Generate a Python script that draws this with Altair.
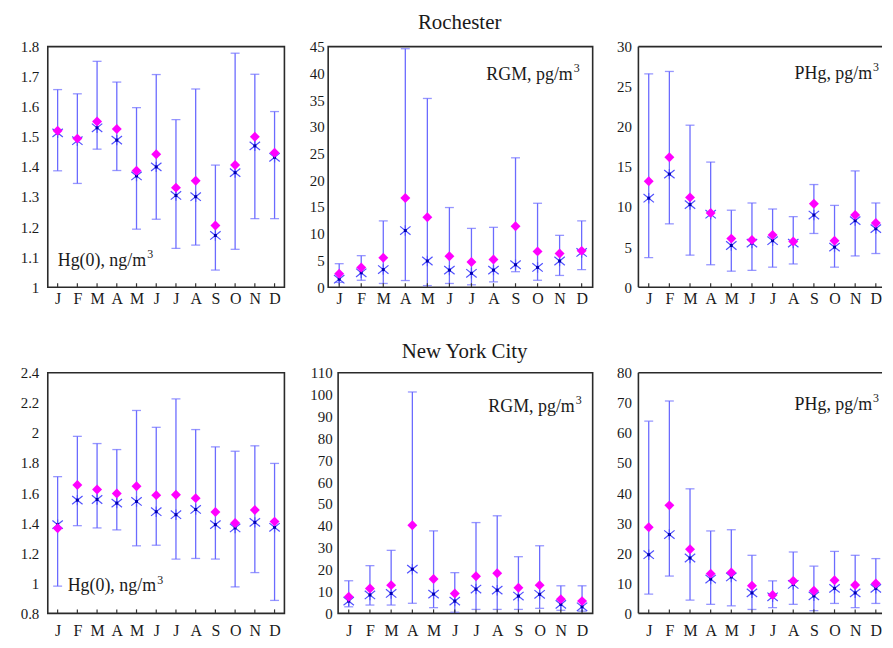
import altair as alt
import pandas as pd

months = ["J", "F", "M", "A", "M", "J", "J", "A", "S", "O", "N", "D"]
month_idx = list(range(1, 13))

# Rochester Hg(0), ng/m3
roc_hg_hi = [1.657, 1.643, 1.751, 1.682, 1.597, 1.707, 1.557, 1.659, 1.406, 1.778, 1.708, 1.584]
roc_hg_lo = [1.387, 1.345, 1.459, 1.388, 1.193, 1.226, 1.129, 1.140, 1.057, 1.126, 1.228, 1.228]
roc_hg_mean = [1.520, 1.494, 1.551, 1.526, 1.387, 1.442, 1.331, 1.354, 1.205, 1.406, 1.500, 1.447]
roc_hg_med = [1.513, 1.487, 1.530, 1.489, 1.370, 1.400, 1.305, 1.301, 1.172, 1.381, 1.470, 1.432]
roc_hg_ticks = [1, 1.1, 1.2, 1.3, 1.4, 1.5, 1.6, 1.7, 1.8]

# Rochester RGM, pg/m3
roc_rgm_hi = [4.4, 5.9, 12.4, 44.6, 35.3, 14.9, 11.0, 11.2, 24.2, 15.7, 9.7, 12.4]
roc_rgm_lo = [0.9, 1.3, 0.7, 1.25, 0.3, 0.7, 0.45, 1.0, 2.9, 1.3, 2.2, 3.3]
roc_rgm_mean = [2.5, 3.7, 5.5, 16.7, 13.1, 5.8, 4.7, 5.2, 11.4, 6.7, 6.3, 6.8]
roc_rgm_med = [1.5, 2.7, 3.3, 10.6, 4.9, 3.2, 2.6, 3.2, 4.2, 3.7, 4.9, 6.5]
roc_rgm_ticks = [0, 5, 10, 15, 20, 25, 30, 35, 40, 45]

# Rochester PHg, pg/m3
roc_phg_hi = [26.6, 26.9, 20.2, 15.6, 9.6, 10.5, 9.75, 8.8, 12.8, 10.2, 14.5, 10.5]
roc_phg_lo = [3.7, 7.9, 4.0, 2.8, 2.0, 2.1, 2.5, 2.9, 6.7, 2.5, 3.9, 4.2]
roc_phg_mean = [13.2, 16.2, 11.2, 9.25, 6.06, 5.9, 6.5, 5.7, 10.4, 5.8, 9.0, 8.0]
roc_phg_med = [11.1, 14.1, 10.3, 9.1, 5.2, 5.5, 5.8, 5.5, 9.0, 5.0, 8.3, 7.3]
roc_phg_ticks = [0, 5, 10, 15, 20, 25, 30]

# New York City Hg(0), ng/m3
nyc_hg_hi = [1.709, 1.977, 1.929, 1.889, 2.149, 2.037, 2.226, 2.022, 1.907, 1.878, 1.914, 1.797]
nyc_hg_lo = [0.981, 1.383, 1.368, 1.355, 1.249, 1.253, 1.161, 1.165, 1.161, 0.976, 1.071, 0.886]
nyc_hg_mean = [1.366, 1.654, 1.623, 1.597, 1.645, 1.586, 1.588, 1.566, 1.474, 1.401, 1.487, 1.410]
nyc_hg_med = [1.390, 1.553, 1.557, 1.533, 1.544, 1.476, 1.456, 1.491, 1.390, 1.368, 1.405, 1.372]
nyc_hg_ticks = [0.8, 1, 1.2, 1.4, 1.6, 1.8, 2, 2.2, 2.4]

# New York City RGM, pg/m3
nyc_rgm_hi = [14.9, 21.8, 28.8, 101.2, 37.7, 18.6, 41.5, 44.6, 25.9, 30.9, 12.6, 12.6]
nyc_rgm_lo = [3.0, 3.8, 3.8, 4.6, 2.6, 0.5, 1.8, 1.8, 1.8, 2.3, 1.4, 1.0]
nyc_rgm_mean = [7.6, 11.4, 12.9, 40.3, 15.7, 9.1, 17.0, 18.3, 11.7, 12.9, 6.5, 5.6]
nyc_rgm_med = [5.6, 8.4, 9.1, 20.2, 8.8, 5.6, 11.1, 10.6, 7.9, 8.7, 4.1, 3.0]
nyc_rgm_ticks = [0, 10, 20, 30, 40, 50, 60, 70, 80, 90, 100, 110]

# New York City PHg, pg/m3
nyc_phg_hi = [63.9, 70.6, 41.4, 27.4, 27.8, 19.3, 10.8, 20.4, 15.7, 20.6, 19.3, 18.2]
nyc_phg_lo = [6.4, 12.4, 4.4, 3.0, 2.5, 1.3, 1.9, 3.0, 0.9, 3.3, 1.9, 3.3]
nyc_phg_mean = [28.6, 35.9, 21.3, 13.2, 13.6, 9.2, 6.1, 10.8, 7.5, 11.0, 9.4, 9.9]
nyc_phg_med = [19.5, 26.2, 18.4, 11.4, 12.1, 6.8, 5.5, 9.6, 5.8, 8.3, 6.8, 8.3]
nyc_phg_ticks = [0, 10, 20, 30, 40, 50, 60, 70, 80]

FONT = "Liberation Serif"
ERR = "#6b6bff"
STAR = "#5050ff"
DOT = "#0000b0"
MEAN = "#ff00ff"
TXT = "#1a1a1a"
FRAME = "#2a2a2a"
H = 242
STAR_PATH = "M-1,-0.8L1,0.8M-1,0.8L1,-0.8M0,-1L0,1"

label_expr = "[" + ",".join("'%s'" % m for m in months) + "][datum.value - 1]"


def panel(hi, lo, mean, med, ticks, fmt, width, extent, pad, label, lx, ly, align,
          xmax=12.5, open_right=False, xpad=3):
    df = pd.DataFrame({"m": month_idx, "hi": hi, "lo": lo, "mean": mean, "med": med})
    xs = alt.Scale(domain=[0.5, xmax], nice=False, zero=False)
    ys = alt.Scale(domain=[ticks[0], ticks[-1]], nice=False, zero=False)
    xaxis = alt.Axis(values=month_idx, labelExpr=label_expr, domain=False, ticks=False,
                     grid=False, labelFont=FONT, labelFontSize=16, labelColor=TXT,
                     labelPadding=xpad, labelFlush=False, labelOverlap=False,
                     tickCount=12, title=None)
    yaxis = alt.Axis(values=ticks, format=fmt, domain=False, ticks=False, grid=False,
                     labelFont=FONT, labelFontSize=15, labelColor=TXT, labelPadding=pad,
                     labelOverlap=False, labelFlush=False, tickCount=len(ticks),
                     minExtent=extent, maxExtent=extent, title=None)

    def X():
        return alt.X("m:Q", scale=xs, axis=xaxis, title=None)

    def Y(f):
        return alt.Y(f + ":Q", scale=ys, axis=yaxis, title=None)

    base = alt.Chart(df)
    bars = base.mark_rule(color=ERR, strokeWidth=1.3).encode(
        x=X(), y=Y("lo"), y2="hi:Q")
    cap_hi = base.mark_tick(orient="horizontal", size=9, thickness=1.3, color=ERR).encode(
        x=X(), y=Y("hi"))
    cap_lo = base.mark_tick(orient="horizontal", size=9, thickness=1.3, color=ERR).encode(
        x=X(), y=Y("lo"))
    star = base.mark_point(shape=STAR_PATH, size=110, filled=False, strokeWidth=1.2,
                           color=STAR, opacity=1).encode(x=X(), y=Y("med"))
    dot = base.mark_square(size=9, color=DOT, opacity=1).encode(x=X(), y=Y("med"))
    dia = base.mark_point(shape="diamond", size=100, filled=True, color=MEAN,
                          opacity=1).encode(x=X(), y=Y("mean"))
    tk = base.mark_rule(color="#333", strokeWidth=1.2).encode(
        x=X(), y=alt.value(H), y2=alt.value(H - 4))
    tdf = pd.DataFrame({"t": [label[0]], "s": [label[1]]})
    tmain = alt.Chart(tdf).mark_text(font=FONT, fontSize=18, color=TXT, align=align,
                                     baseline="alphabetic").encode(
        text="t:N", x=alt.value(lx), y=alt.value(ly))
    sx = lx + 1 if align == "right" else lx + label[2]
    tsup = alt.Chart(tdf).mark_text(font=FONT, fontSize=12, color=TXT, align="left",
                                    baseline="alphabetic").encode(
        text="s:N", x=alt.value(sx), y=alt.value(ly - 8))
    layers = [bars, cap_hi, cap_lo, star, dot, dia, tk, tmain, tsup]
    props = dict(width=width, height=H)
    if open_right:
        fdf = pd.DataFrame({"k": [0]})
        fr = alt.Chart(fdf)
        top = fr.mark_rule(color=FRAME, strokeWidth=1.6).encode(
            x=alt.value(0), x2=alt.value(width), y=alt.value(0))
        bot = fr.mark_rule(color=FRAME, strokeWidth=1.6).encode(
            x=alt.value(0), x2=alt.value(width), y=alt.value(H))
        left = fr.mark_rule(color=FRAME, strokeWidth=1.6).encode(
            x=alt.value(0), y=alt.value(0), y2=alt.value(H))
        layers += [top, bot, left]
        props["view"] = alt.ViewBackground(stroke="transparent")
    return alt.layer(*layers).properties(**props)


p1 = panel(roc_hg_hi, roc_hg_lo, roc_hg_mean, roc_hg_med, roc_hg_ticks, ".1~f",
           238, 38, 9, ("Hg(0), ng/m", "3", 90), 10, 221, "left")
p2 = panel(roc_rgm_hi, roc_rgm_lo, roc_rgm_mean, roc_rgm_med, roc_rgm_ticks, "d",
           266, 38, 4, ("RGM, pg/m", "3", 0), 246, 34, "right")
p3 = panel(roc_phg_hi, roc_phg_lo, roc_phg_mean, roc_phg_med, roc_phg_ticks, "d",
           245, 40, 7, ("PHg, pg/m", "3", 0), 235, 33, "right", xmax=12.3, open_right=True)
p4 = panel(nyc_hg_hi, nyc_hg_lo, nyc_hg_mean, nyc_hg_med, nyc_hg_ticks, ".1~f",
           238, 38, 9, ("Hg(0), ng/m", "3", 90), 20, 220, "left", xpad=9)
p5 = panel(nyc_rgm_hi, nyc_rgm_lo, nyc_rgm_mean, nyc_rgm_med, nyc_rgm_ticks, "d",
           256, 48, 6, ("RGM, pg/m", "3", 0), 238, 39, "right", xpad=9)
p6 = panel(nyc_phg_hi, nyc_phg_lo, nyc_phg_mean, nyc_phg_med, nyc_phg_ticks, "d",
           245, 40, 7, ("PHg, pg/m", "3", 0), 235, 37, "right", xmax=12.3, open_right=True,
           xpad=9)

row1 = alt.hconcat(p1, p2, p3, spacing=4).properties(
    title=alt.TitleParams("Rochester", anchor="middle", font=FONT, fontSize=21,
                          fontWeight="normal", color=TXT, offset=6, dx=13))
row2 = alt.hconcat(p4, p5, p6, spacing=4).properties(
    title=alt.TitleParams("New York City", anchor="middle", font=FONT, fontSize=21,
                          fontWeight="normal", color=TXT, offset=3, dx=18))

chart = alt.vconcat(row1, row2, spacing=34).properties(
    padding={"left": 1, "top": 2, "right": 0, "bottom": 0},
    background="white",
).configure_view(stroke=FRAME, strokeWidth=1.6).configure_axis(
    labelFont=FONT, labelColor=TXT)

chart.save("out.html", embed_options={"renderer": "svg", "actions": False})
